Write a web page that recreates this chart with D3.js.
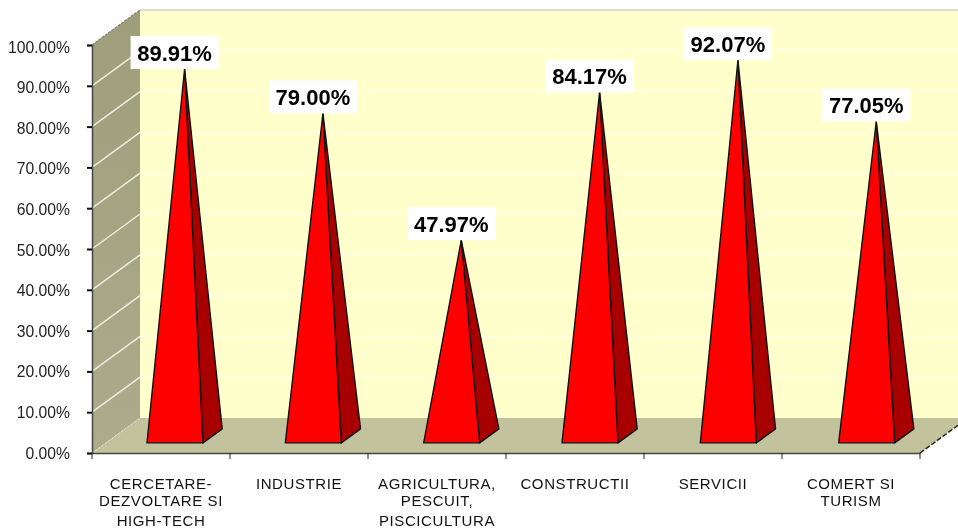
<!DOCTYPE html>
<html lang="en">
<head>
<meta charset="utf-8">
<script src="https://cdn.jsdelivr.net/npm/d3@7/dist/d3.min.js"></script>
<style>
body{margin:0;background:#fff;overflow:hidden}
svg{display:block;filter:blur(0.4px)}
text{font-family:"Liberation Sans",Arial,sans-serif}
</style>
</head>
<body>
<div id="drawarea"></div>
<script>
const categories=["CERCETARE- DEZVOLTARE SI HIGH-TECH","INDUSTRIE","AGRICULTURA, PESCUIT, PISCICULTURA","CONSTRUCTII","SERVICII","COMERT SI TURISM"]
const categoryLines=[["CERCETARE-","DEZVOLTARE SI","HIGH-TECH"],["INDUSTRIE"],["AGRICULTURA,","PESCUIT,","PISCICULTURA"],["CONSTRUCTII"],["SERVICII"],["COMERT SI","TURISM"]]
const values=[0.8991,0.79,0.4797,0.8417,0.9207,0.7705]
const yTicks=[0,0.1,0.2,0.3,0.4,0.5,0.6,0.7,0.8,0.9,1]

const chartWidth=958
const chartHeight=529
const plotLeft=92, plotRight=920, plotBottom=453, plotTop=45
const depthX=48, depthY=35
const lineY=[484,501,521]

const x=d3.scaleBand().domain(categories).range([plotLeft,plotRight])
// the pyramids sit on a very slightly wider step than the axis ticks
const xBars=d3.scaleBand().domain(categories).range([plotLeft,plotRight+2])
const y=d3.scaleLinear().domain([0,1]).range([plotBottom,plotTop])

// oblique projection: d = 0 at the front plane, d = 1 at the back wall
const px=(a,d)=>a+d*depthX
const py=(a,d)=>a-d*depthY
const pts=a=>a.map(p=>p.join(",")).join(" ")

const svg=d3.select("#drawarea").append("svg").attr("width",chartWidth).attr("height",chartHeight)

const grad=svg.append("defs").append("linearGradient").attr("id","wallgrad").attr("x1",0).attr("y1",0).attr("x2",0).attr("y2",1)
grad.append("stop").attr("offset",0).attr("stop-color","#9e9e7c")
grad.append("stop").attr("offset",1).attr("stop-color","#acac8c")

// back wall
svg.append("polygon").attr("points",pts([[px(plotLeft,1),py(plotTop,1)],[px(plotRight,1),py(plotTop,1)],[px(plotRight,1),py(plotBottom,1)],[px(plotLeft,1),py(plotBottom,1)]])).attr("fill","#ffffcc")
// left wall
svg.append("polygon").attr("points",pts([[plotLeft,plotTop],[px(plotLeft,1),py(plotTop,1)],[px(plotLeft,1),py(plotBottom,1)],[plotLeft,plotBottom]])).attr("fill","url(#wallgrad)")
// floor
svg.append("polygon").attr("points",pts([[plotLeft,plotBottom],[plotRight,plotBottom],[px(plotRight,1),py(plotBottom,1)],[px(plotLeft,1),py(plotBottom,1)]])).attr("fill","#c2c29c")
// floor and wall outer edges
svg.append("line").attr("x1",plotRight).attr("y1",plotBottom).attr("x2",px(plotRight,1)).attr("y2",py(plotBottom,1)).attr("stroke","#222").attr("stroke-width",1.5).attr("stroke-dasharray","5 2")
svg.append("line").attr("x1",plotLeft).attr("y1",plotTop).attr("x2",px(plotLeft,1)).attr("y2",py(plotTop,1)).attr("stroke","#8a8a78").attr("stroke-width",1.5).attr("stroke-dasharray","3 1")
svg.append("line").attr("x1",plotLeft).attr("y1",plotBottom).attr("x2",px(plotLeft,1)).attr("y2",py(plotBottom,1)).attr("stroke","#e4e4d4").attr("stroke-width",1).attr("stroke-dasharray","2 2")

// grid
const grid=yTicks.filter(d=>d>0)
svg.selectAll("line.gridback").data(grid).join("line").attr("class","gridback")
 .attr("x1",px(plotLeft,1)).attr("x2",px(plotRight,1)).attr("y1",d=>py(y(d),1)).attr("y2",d=>py(y(d),1))
 .attr("stroke",d=>d==1?"#d2d2cc":"#ffffe8").attr("stroke-width",1.5)
svg.selectAll("line.gridleft").data(grid.filter(d=>d<1)).join("line").attr("class","gridleft")
 .attr("x1",plotLeft).attr("x2",px(plotLeft,1)).attr("y1",d=>y(d)).attr("y2",d=>py(y(d),1))
 .attr("stroke","#ecece0").attr("stroke-width",1.5)

// axes
const yAxis=svg.append("g").attr("transform",`translate(${plotLeft},0)`)
 .call(d3.axisLeft(y).tickValues(yTicks).tickFormat(d3.format(".2%")).tickSize(5).tickPadding(17))
yAxis.selectAll("text").attr("font-size",15.7).attr("fill","#222").attr("y",d=>d*2)
yAxis.selectAll("line").attr("stroke","#111").attr("stroke-width",2)
yAxis.select(".domain").attr("stroke","#444").attr("stroke-width",1.5)

const xAxis=svg.append("g").attr("transform",`translate(0,${plotBottom})`)
 .call(d3.axisBottom(x).tickValues([]).tickSizeOuter(0))
xAxis.select(".domain").attr("stroke","#444").attr("stroke-width",1.5)
svg.selectAll("line.xtick").data(d3.range(categories.length+1)).join("line").attr("class","xtick")
 .attr("x1",d=>plotLeft+d*x.step()).attr("x2",d=>plotLeft+d*x.step()).attr("y1",plotBottom).attr("y2",plotBottom+6)
 .attr("stroke","#222").attr("stroke-width",1)

// pyramids
const barInset=55, barW=56, barD0=0.29, barD1=0.69
const row=categories.map((c,i)=>({c,v:values[i],lines:categoryLines[i]}))
const bars=svg.selectAll("g.bar").data(row).join("g").attr("class","bar")
const geom=d=>{
 const a=xBars(d.c)+barInset, b=a+barW
 const base=py(plotBottom,barD0)
 const bx=px(b,barD1-barD0), by=py(base,barD1-barD0)
 const cx=(a+bx)/2, cy=(base+by)/2
 return {a,b,base,bx,by,cx,apex:cy-(plotBottom-y(d.v))}
}
bars.append("polygon").attr("points",d=>{const g=geom(d);return pts([[g.b,g.base],[g.bx,g.by],[g.cx,g.apex]])})
 .attr("fill","#a80000").attr("stroke","#111").attr("stroke-width",1.4).attr("stroke-linejoin","round")
bars.append("polygon").attr("points",d=>{const g=geom(d);return pts([[g.a,g.base],[g.b,g.base],[g.cx,g.apex]])})
 .attr("fill","#ff0000").attr("stroke","#111").attr("stroke-width",1.4).attr("stroke-linejoin","round")

// value labels
const labelW=88, labelH=33
bars.append("rect").attr("x",d=>geom(d).cx-10-labelW/2).attr("y",d=>geom(d).apex-labelH).attr("width",labelW).attr("height",labelH).attr("fill","#fff")
bars.append("text").attr("x",d=>geom(d).cx-10).attr("y",d=>geom(d).apex-labelH/2+8)
 .attr("text-anchor","middle").attr("font-size",22).attr("font-weight","bold").attr("fill","#000")
 .text(d=>d3.format(".2%")(d.v))

// category labels
svg.selectAll("text.cat").data(row).join("text").attr("class","cat")
 .attr("text-anchor","middle").attr("font-size",15).attr("letter-spacing",0.6).attr("fill","#111")
 .each(function(d){
  d3.select(this).selectAll("tspan").data(d.lines).join("tspan")
   .attr("x",x(d.c)+x.bandwidth()/2).attr("y",(l,i)=>lineY[i]+5).text(l=>l)
 })
</script>
</body>
</html>
